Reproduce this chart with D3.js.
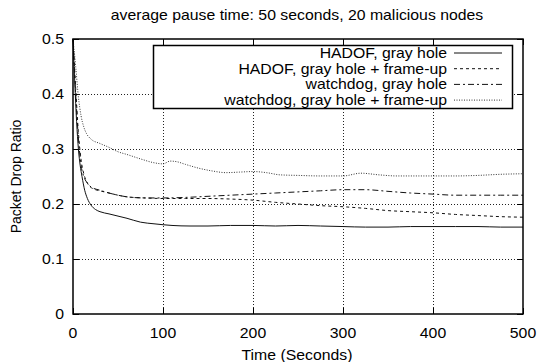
<!DOCTYPE html>
<html>
<head>
<meta charset="utf-8">
<script src="https://cdn.jsdelivr.net/npm/d3@7/dist/d3.min.js"></script>
<style>
  body { margin: 0; background: #fff; }
  text { font-family: "Liberation Sans", Arial, sans-serif; fill: #000; }
</style>
</head>
<body>
<div id="chart"></div>
<script>
// series data
const hadofGrayT = [0, 2, 4, 6, 8, 10, 13, 16, 20, 25, 30, 40, 50, 60, 75, 90, 110, 130, 150, 175, 200, 225, 250, 275, 300, 325, 350, 375, 400, 425, 450, 475, 500];
const hadofGrayV = [0.5, 0.42, 0.35, 0.3, 0.27, 0.25, 0.225, 0.21, 0.198, 0.19, 0.186, 0.182, 0.178, 0.174, 0.167, 0.164, 0.161, 0.16, 0.16, 0.161, 0.161, 0.16, 0.161, 0.16, 0.159, 0.158, 0.158, 0.159, 0.159, 0.159, 0.159, 0.158, 0.158];

const hadofFrameT = [0, 3, 6, 9, 12, 16, 22, 30, 40, 50, 60, 80, 100, 125, 150, 175, 200, 225, 250, 275, 300, 325, 350, 375, 400, 425, 450, 475, 500];
const hadofFrameV = [0.5, 0.41, 0.33, 0.28, 0.255, 0.238, 0.228, 0.224, 0.22, 0.216, 0.213, 0.211, 0.21, 0.21, 0.21, 0.209, 0.207, 0.203, 0.2, 0.197, 0.195, 0.192, 0.188, 0.186, 0.184, 0.181, 0.179, 0.177, 0.176];

const watchGrayT = [0, 3, 6, 9, 12, 16, 20, 30, 40, 50, 60, 80, 100, 125, 150, 175, 200, 225, 250, 275, 300, 325, 350, 375, 400, 425, 450, 475, 500];
const watchGrayV = [0.5, 0.4, 0.32, 0.27, 0.25, 0.238, 0.231, 0.225, 0.22, 0.216, 0.213, 0.211, 0.211, 0.212, 0.214, 0.216, 0.218, 0.22, 0.222, 0.224, 0.226, 0.226, 0.223, 0.22, 0.218, 0.216, 0.216, 0.216, 0.216];

const watchFrameT = [0, 3, 6, 9, 12, 15, 20, 30, 40, 50, 60, 75, 90, 100, 108, 115, 125, 140, 155, 170, 185, 200, 215, 230, 250, 275, 300, 320, 340, 360, 380, 400, 425, 450, 475, 500];
const watchFrameV = [0.5, 0.45, 0.395, 0.36, 0.34, 0.328, 0.318, 0.31, 0.303, 0.295, 0.29, 0.282, 0.275, 0.273, 0.278, 0.277, 0.272, 0.265, 0.26, 0.257, 0.258, 0.259, 0.257, 0.253, 0.252, 0.251, 0.251, 0.256, 0.253, 0.251, 0.251, 0.251, 0.251, 0.252, 0.254, 0.255];

const seriesNames = ['HADOF, gray hole', 'HADOF, gray hole + frame-up', 'watchdog, gray hole', 'watchdog, gray hole + frame-up'];
const xTicks = [0, 100, 200, 300, 400, 500];
const yTicks = [0, 0.1, 0.2, 0.3, 0.4, 0.5];
const title = 'average pause time: 50 seconds, 20 malicious nodes';

const width = 537, height = 362;
const margin = { top: 39, right: 14, bottom: 48, left: 73 };
const plotW = width - margin.left - margin.right;
const plotH = height - margin.top - margin.bottom;
const sx = 1.13; // reference text is a bit wide

const svg = d3.select('#chart').append('svg')
  .attr('width', width)
  .attr('height', height);

const x = d3.scaleLinear().domain([0, 500]).range([margin.left, margin.left + plotW]);
const y = d3.scaleLinear().domain([0, 0.5]).range([margin.top + plotH, margin.top]);

// helper: horizontally stretched label
function label(parent, px, py, str, anchor) {
  return parent.append('g')
    .attr('transform', `translate(${px},${py}) scale(${sx},1)`)
    .append('text')
    .attr('text-anchor', anchor || 'middle')
    .style('font-size', '14px')
    .text(str);
}

// grid
const grid = svg.append('g').attr('class', 'grid');
grid.selectAll('line.gx')
  .data(xTicks.slice(1, -1))
  .enter().append('line')
  .attr('x1', d => Math.round(x(d)) + 0.5).attr('x2', d => Math.round(x(d)) + 0.5)
  .attr('y1', y(0)).attr('y2', y(0.5))
  .style('stroke', '#222').style('stroke-width', 1).style('stroke-dasharray', '1,2');
grid.selectAll('line.gy')
  .data(yTicks.slice(1, -1))
  .enter().append('line')
  .attr('y1', d => Math.round(y(d)) + 0.5).attr('y2', d => Math.round(y(d)) + 0.5)
  .attr('x1', x(0)).attr('x2', x(500))
  .style('stroke', '#222').style('stroke-width', 1).style('stroke-dasharray', '1,2');

// axes with inward ticks, mirrored
const tick = 6;
svg.append('g').attr('transform', `translate(0,${y(0)})`)
  .call(d3.axisBottom(x).tickValues(xTicks).tickSize(-tick).tickFormat(''))
  .call(g => g.select('.domain').remove());
svg.append('g').attr('transform', `translate(0,${y(0.5)})`)
  .call(d3.axisTop(x).tickValues(xTicks).tickSize(-tick).tickFormat(''))
  .call(g => g.select('.domain').remove());
svg.append('g').attr('transform', `translate(${x(0)},0)`)
  .call(d3.axisLeft(y).tickValues(yTicks).tickSize(-tick).tickFormat(''))
  .call(g => g.select('.domain').remove());
svg.append('g').attr('transform', `translate(${x(500)},0)`)
  .call(d3.axisRight(y).tickValues(yTicks).tickSize(-tick).tickFormat(''))
  .call(g => g.select('.domain').remove());
svg.selectAll('.tick line').style('stroke', '#000');

// tick labels
xTicks.forEach(d => label(svg, x(d), 338, String(d)));
yTicks.forEach(d => label(svg, 64, y(d) + 5, String(d), 'end'));

// series
const line = d3.line()
  .x(d => x(d[0]))
  .y(d => y(d[1]))
  .curve(d3.curveMonotoneX);

const series = [
  { name: seriesNames[0], t: hadofGrayT, v: hadofGrayV, dash: null, color: '#111' },
  { name: seriesNames[1], t: hadofFrameT, v: hadofFrameV, dash: '3,3', color: '#111' },
  { name: seriesNames[2], t: watchGrayT, v: watchGrayV, dash: '6,3,2,3', color: '#111' },
  { name: seriesNames[3], t: watchFrameT, v: watchFrameV, dash: '1,1.5', color: '#333' }
];

series.forEach(s => {
  svg.append('path')
    .datum(s.t.map((t, i) => [t, s.v[i]]))
    .attr('d', line)
    .style('fill', 'none')
    .style('stroke', s.color)
    .style('stroke-width', 1)
    .style('stroke-dasharray', s.dash);
});

// frame
svg.append('rect')
  .attr('x', x(0)).attr('y', y(0.5))
  .attr('width', x(500) - x(0)).attr('height', y(0) - y(0.5))
  .style('fill', 'none').style('stroke', '#000').style('stroke-width', 1.5);

// legend
const legend = svg.append('g').attr('class', 'legend');
legend.append('rect')
  .attr('x', 153.5).attr('y', 45.5).attr('width', 359).attr('height', 63)
  .style('fill', '#fff').style('stroke', '#000').style('stroke-width', 1.5);
series.forEach((s, i) => {
  const by = 58 + i * 15.7;
  label(legend, 447, by, s.name, 'end');
  legend.append('line')
    .attr('x1', 454).attr('x2', 502)
    .attr('y1', by - 5).attr('y2', by - 5)
    .style('stroke', s.color).style('stroke-width', 1)
    .style('stroke-dasharray', s.dash);
});

// title and axis labels
label(svg, 297, 20, title);
label(svg, 297, 360, 'Time (Seconds)');
svg.append('text')
  .attr('transform', `translate(21,${y(0.25)}) rotate(-90)`)
  .attr('text-anchor', 'middle')
  .style('font-size', '14px')
  .text('Packet Drop Ratio');
</script>
</body>
</html>
